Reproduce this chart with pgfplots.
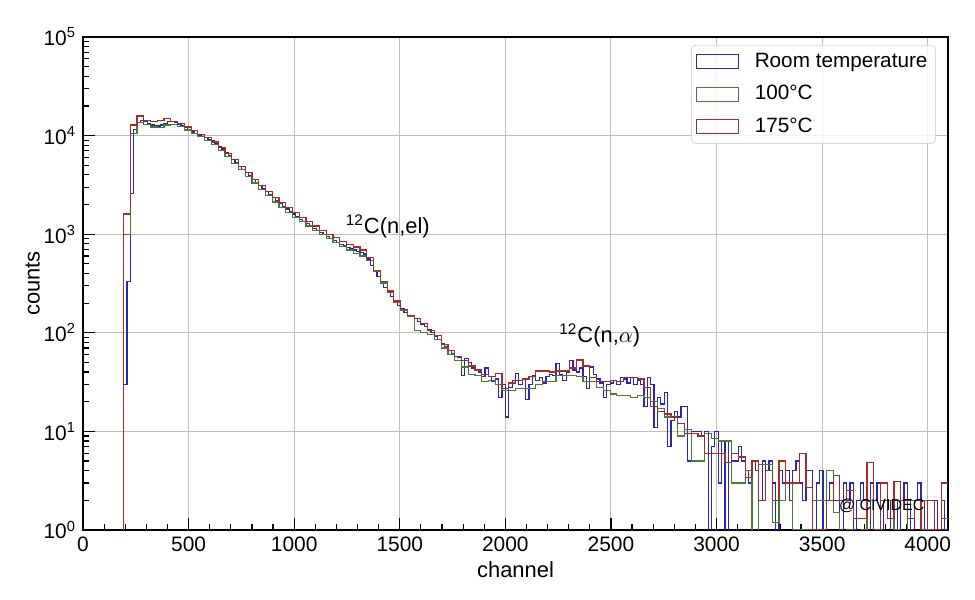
\documentclass[border=0pt]{standalone}
\usepackage{fontspec}
\setmainfont{Liberation Sans}
\usepackage{pgfplots}
\pgfplotsset{compat=1.18}
\definecolor{cblue}{RGB}{40,40,180}
\definecolor{cgreen}{RGB}{70,125,50}
\definecolor{cred}{RGB}{165,45,40}
\begin{document}
\begin{tikzpicture}
\begin{axis}[
  name=ax,
  scale only axis, width=432.5bp, height=246.5bp,
  xmin=0, xmax=4096, ymin=1, ymax=100000, ymode=log,
  xtick={0,500,1000,1500,2000,2500,3000,3500,4000}, minor x tick num=4,
  ytick={1,10,100,1000,10000,100000},
  yticklabels={10\textsuperscript{0},10\textsuperscript{1},10\textsuperscript{2},10\textsuperscript{3},10\textsuperscript{4},10\textsuperscript{5}},
  minor ytick={2,3,4,5,6,7,8,9,20,30,40,50,60,70,80,90,200,300,400,500,600,700,800,900,2000,3000,4000,5000,6000,7000,8000,9000,20000,30000,40000,50000,60000,70000,80000,90000},
  tick align=inside, tick pos=left,
  major tick length=6bp, minor tick length=3bp,
  every tick/.style={black, line width=0.6bp},
  axis line style={line width=0.9bp},
  grid=major, major grid style={black!25, line width=0.5bp},
  /pgf/number format/assume math mode=true,
  /pgf/number format/1000 sep={},
  ticklabel style={font=\fontsize{10.5}{12}\selectfont},
  label style={font=\fontsize{11}{13}\selectfont},
  xlabel={channel}, ylabel={counts},
  xlabel shift=-2bp, ylabel shift=-5bp,
  const plot,
  every axis plot/.append style={line width=0.6bp},
  legend cell align=left,
  legend image code/.code={\draw[#1, fill=none, sharp corners, line width=0.6bp] (0bp,-3.5bp) rectangle (21bp,3.5bp);},
  legend style={at={(0.986,0.984)}, anchor=north east, draw=black!15, rounded corners=2bp,
    fill=white, fill opacity=0.8, text opacity=1, font=\fontsize{10.4}{12.5}\selectfont,
    row sep=3.5bp, inner xsep=2bp, inner ysep=2bp,
    /tikz/every odd column/.append style={column sep=6bp}},
]
\addplot[cblue] coordinates {(176,0.1)(192,30)(208,330)(224,2600)(240,11500)(256,13500)(272,14200)(288,13800)(304,13200)(320,12800)(336,12600)(352,12500)(368,12800)(384,13300)(400,13800)(416,13900)(432,13500)(448,13000)(464,12500)(480,12000)(496,11400)(512,10900)(528,10500)(544,10100)(560,9800)(576,9500)(592,9200)(608,8800)(624,8300)(640,7800)(656,7300)(672,6700)(688,6200)(704,5700)(720,5300)(736,4900)(752,4500)(768,4200)(784,3900)(800,3600)(816,3350)(832,3100)(848,2900)(864,2700)(880,2500)(896,2350)(912,2200)(928,2050)(944,1920)(960,1800)(976,1700)(992,1600)(1008,1500)(1024,1420)(1040,1350)(1056,1280)(1072,1210)(1088,1150)(1104,1090)(1120,1040)(1136,990)(1152,940)(1168,900)(1184,860)(1200,820)(1216,790)(1232,760)(1248,730)(1264,710)(1280,690)(1296,670)(1312,655)(1328,630)(1344,560)(1360,480)(1376,420)(1392,370)(1408,330)(1424,290)(1440,260)(1456,235)(1472,210)(1488,190)(1504,175)(1520,160)(1536,150)(1552,145)(1568,140)(1584,130)(1600,122)(1616,115)(1632,108)(1648,100)(1664,92)(1680,85)(1696,78)(1712,72)(1728,66)(1744,62)(1760,58)(1776,56)(1792,37)(1808,55)(1824,50)(1840,44)(1856,42)(1872,40)(1888,36)(1904,44)(1920,36)(1936,32)(1952,34)(1968,22)(1984,30)(2000,14)(2016,28)(2032,33)(2048,39)(2064,30)(2080,34)(2096,21)(2112,30)(2128,37)(2144,33)(2160,35)(2176,31)(2192,36)(2208,38)(2224,37)(2240,49)(2256,38)(2272,33)(2288,40)(2304,52)(2320,42)(2336,40)(2352,44)(2368,36)(2384,27)(2400,45)(2416,38)(2432,34)(2448,31)(2464,22)(2480,30)(2496,31)(2512,33)(2528,30)(2544,35)(2560,34)(2576,31)(2592,35)(2608,30)(2624,33)(2640,30)(2656,18)(2672,35)(2688,30)(2704,11)(2720,22)(2736,19)(2752,25)(2768,7)(2784,13)(2800,16)(2816,14)(2832,18)(2848,18)(2864,5)(2880,10)(2896,10)(2912,10)(2928,9)(2944,10)(2960,0.1)(2976,7)(2992,10)(3008,3)(3024,8)(3040,0.1)(3056,8)(3072,5)(3088,5)(3104,7)(3120,5)(3136,4)(3152,3)(3168,5)(3184,4)(3200,2)(3216,5)(3232,4)(3248,5)(3264,3)(3280,0.1)(3296,4)(3312,3)(3328,4)(3344,2)(3360,4)(3376,5)(3392,3)(3408,2)(3424,4)(3440,4)(3456,1)(3472,3)(3488,4)(3504,0.1)(3520,2)(3536,3)(3552,2)(3568,2)(3584,1)(3600,3)(3616,2)(3632,3)(3648,1)(3664,2)(3680,3)(3696,2)(3712,0.1)(3728,3)(3744,2)(3760,3)(3776,1)(3792,2)(3808,2)(3824,0.1)(3840,2)(3856,1)(3872,2)(3888,3)(3904,2)(3920,1)(3936,2)(3952,3)(3968,1)(3984,2)(4000,0.1)(4016,1)(4032,2)(4048,1)(4064,2)(4080,1)(4096,1)};
\addlegendentry{Room temperature}
\addplot[cgreen] coordinates {(160,0.1)(192,1000)(224,10500)(256,13500)(288,13000)(320,12200)(352,12000)(384,12800)(416,13000)(448,12300)(480,11400)(512,10500)(544,9700)(576,9000)(608,8100)(640,7100)(672,6100)(704,5200)(736,4500)(768,3850)(800,3300)(832,2850)(864,2450)(896,2120)(928,1880)(960,1670)(992,1480)(1024,1340)(1056,1210)(1088,1090)(1120,990)(1152,900)(1184,820)(1216,750)(1248,690)(1280,640)(1312,600)(1344,540)(1376,420)(1408,320)(1440,255)(1472,205)(1504,168)(1536,145)(1568,105)(1600,100)(1632,96)(1664,85)(1696,70)(1728,60)(1760,52)(1792,45)(1824,38)(1856,37)(1888,32)(1920,33)(1952,30)(1984,26)(2016,26)(2048,27)(2080,27)(2112,27)(2144,30)(2176,32)(2208,32)(2240,37)(2272,37)(2304,37)(2336,36)(2368,32)(2400,32)(2432,28)(2464,26)(2496,24)(2528,23)(2560,23)(2592,22)(2624,23)(2656,22)(2688,20)(2720,17)(2752,14)(2784,14)(2816,9)(2848,10.5)(2880,5)(2912,5)(2944,9.6)(2976,8.4)(3008,8)(3040,8)(3072,3)(3104,3)(3136,4)(3168,0.1)(3200,4.6)(3232,4.6)(3264,1.2)(3296,2)(3328,3)(3360,1)(3392,1)(3424,1)(3456,2)(3488,2)(3520,4)(3552,1.5)(3584,0.1)(3616,1)(3648,0.1)(3680,1)(3712,2)(3744,1)(3776,2)(3808,2)(3840,1)(3872,0.1)(3904,2)(3936,2)(3968,2)(4000,1)(4032,0.1)(4064,1.3)(4096,1.3)};
\addlegendentry{100°C}
\addplot[cred] coordinates {(160,0.1)(192,1600)(224,12800)(256,15800)(288,14300)(320,14000)(352,14200)(384,14800)(416,14000)(448,13200)(480,12200)(512,11200)(544,10300)(576,9500)(608,8600)(640,7600)(672,6600)(704,5700)(736,4900)(768,4200)(800,3600)(832,3100)(864,2700)(896,2350)(928,2080)(960,1850)(992,1650)(1024,1480)(1056,1340)(1088,1210)(1120,1100)(1152,1000)(1184,920)(1216,850)(1248,790)(1280,740)(1312,690)(1344,580)(1376,430)(1408,330)(1440,265)(1472,210)(1504,172)(1536,150)(1568,140)(1600,124)(1632,106)(1664,94)(1696,76)(1728,66)(1760,58)(1792,52)(1824,46)(1856,42)(1888,38)(1920,36)(1952,39)(1984,27)(2016,31)(2048,33)(2080,34)(2112,36)(2144,41)(2176,41)(2208,40)(2240,41)(2272,41)(2304,44)(2336,53)(2368,46)(2400,35)(2432,32)(2464,32)(2496,33)(2528,32)(2560,35)(2592,35)(2624,34)(2656,28)(2688,18)(2720,16)(2752,15)(2784,14)(2816,12)(2848,9.6)(2880,9.6)(2912,9)(2944,6)(2976,6)(3008,6)(3040,4.8)(3072,6)(3104,5.5)(3136,3.4)(3168,5)(3200,2)(3232,4)(3264,2)(3296,5)(3328,3)(3360,3)(3392,6)(3424,2.7)(3456,1)(3488,1)(3520,2)(3552,3.6)(3584,2)(3616,2.5)(3648,1.3)(3680,1.3)(3712,4.8)(3744,1)(3776,3)(3808,1.3)(3840,3.1)(3872,2)(3904,1.3)(3936,2)(3968,1)(4000,2)(4032,1)(4064,3)(4096,3)};
\addlegendentry{175°C}
\node[anchor=west, font=\fontsize{11}{13}\selectfont, inner sep=0pt] at (axis cs:1243,1212) {\textsuperscript{12}C(n,el)};
\node[anchor=west, font=\fontsize{11}{13}\selectfont, inner sep=0pt] at (axis cs:2254,95) {\textsuperscript{12}C(n,$\alpha$)};
\node[anchor=west, font=\fontsize{8}{9}\selectfont, inner sep=0pt] at (axis cs:3578,1.75) {@ CIVIDEC};
\end{axis}
\path (ax.south west) ++(-41.5bp,-35bp) rectangle ++(487.5bp,300bp);
\end{tikzpicture}
\end{document}
